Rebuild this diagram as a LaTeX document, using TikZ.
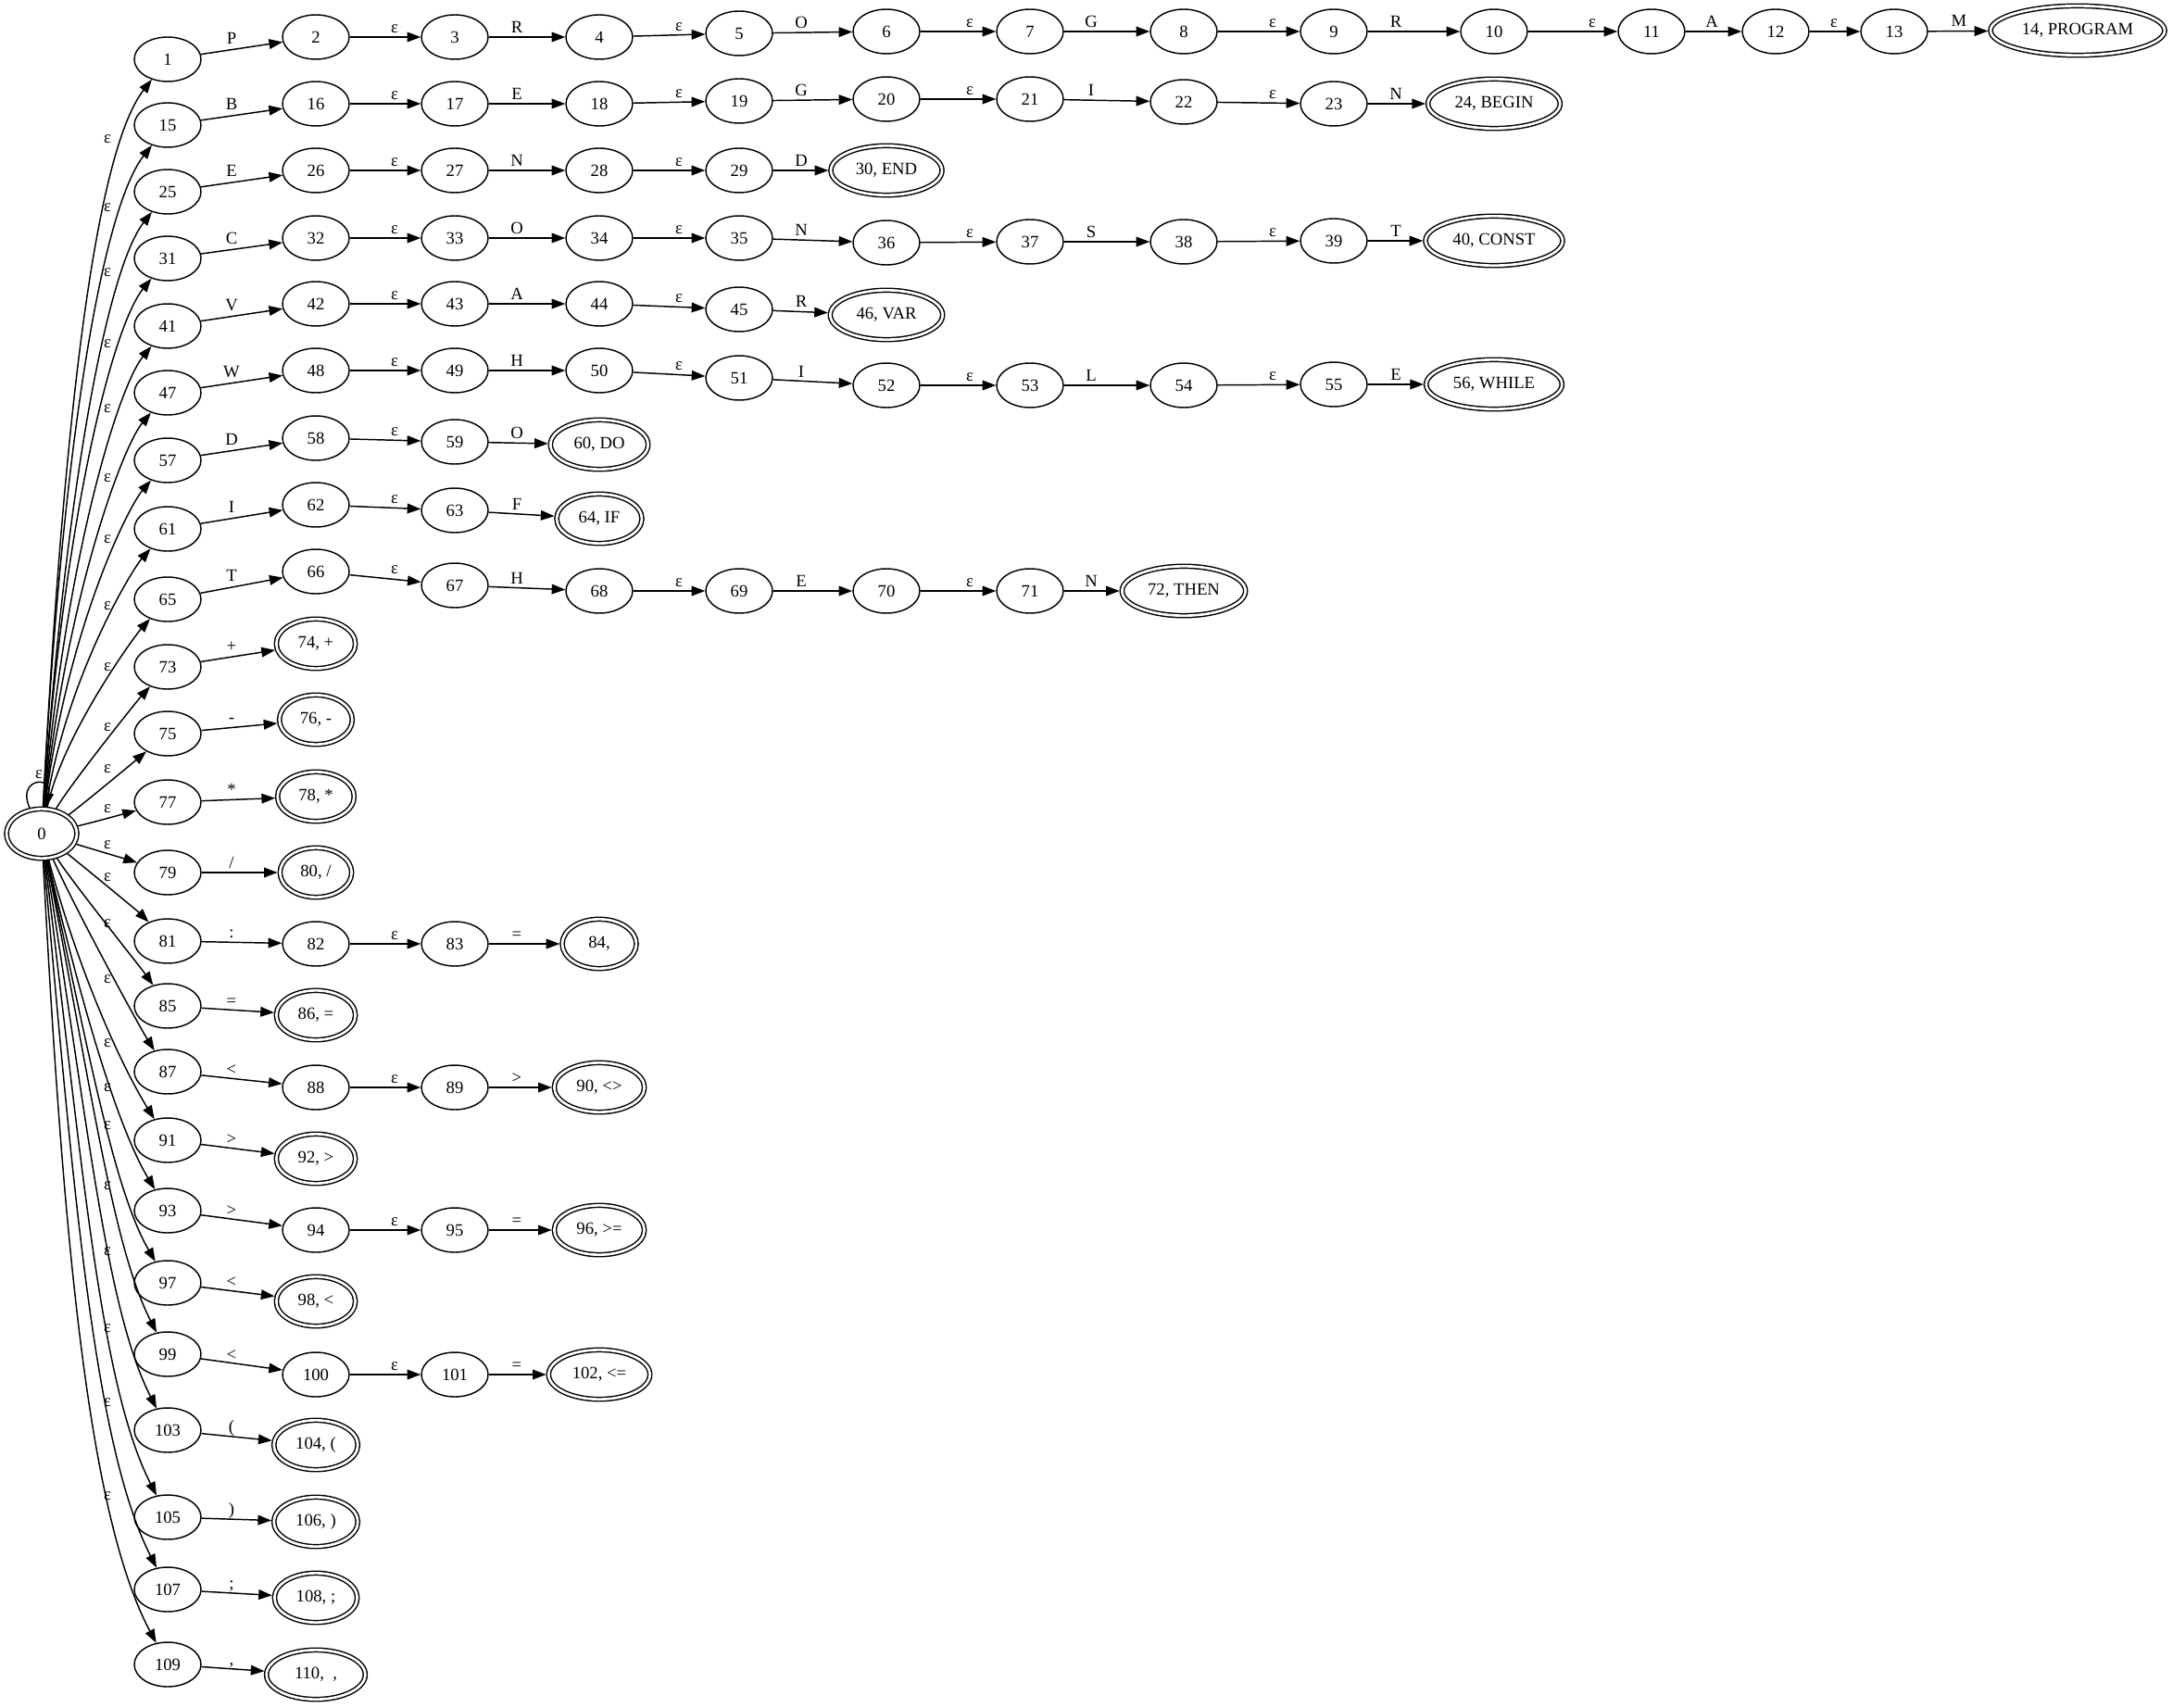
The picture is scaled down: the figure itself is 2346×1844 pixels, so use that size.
\documentclass[tikz,border=0pt]{standalone}
\usepackage{fontspec}
\setmainfont{Liberation Serif}
\usetikzlibrary{arrows.meta,shapes.geometric}

\begin{document}
\begin{tikzpicture}[x=0.75pt,y=0.75pt,
	st/.style={draw,ellipse,line width=1.1pt,minimum width=54pt,minimum height=36pt,inner sep=2pt,font=\fontsize{14}{16}\selectfont},
	acc/.style={st,double,double distance=2pt,outer sep=2pt,minimum height=40pt,inner xsep=1pt},
	arr/.style={line width=1.1pt,-{Triangle[length=11pt,width=8pt]}},
	lab/.style={font=\fontsize{14}{16}\selectfont,inner sep=2pt}]
\useasboundingbox (0,0) rectangle (2346,-1844);
\node (n0) at (45,-900) [acc,minimum width=57pt] {0};
\foreach \n/\x/\y in {1/181/64,2/341/40,3/491/40,4/647/40,5/798/36,6/957/34,7/1112/34,8/1278/34,9/1440/34,10/1613/34,11/1783/34,12/1917/34,13/2045/34,
	15/181/135,16/341/112,17/491/112,18/647/112,19/798/109,20/957/107,21/1112/107,22/1278/110,23/1440/112,
	25/181/207,26/341/184,27/491/184,28/647/184,29/798/184,
	31/181/279,32/341/257,33/491/257,34/647/257,35/798/257,36/957/262,37/1112/261,38/1278/261,39/1440/260,
	41/181/352,42/341/328,43/491/328,44/647/328,45/798/334,
	47/181/424,48/341/400,49/491/400,50/647/400,51/798/408,52/957/416,53/1112/416,54/1278/416,55/1440/415,
	57/181/497,58/341/473,59/491/477,
	61/181/571,62/341/545,63/491/551,
	65/181/647,66/341/617,67/491/632,68/647/638,69/798/638,70/957/638,71/1112/638,
	73/181/720,75/181/792,77/181/866,79/181/942,
	81/181/1016,82/341/1019,83/491/1019,85/181/1086,
	87/181/1157,88/341/1174,89/491/1174,91/181/1231,
	93/181/1307,94/341/1328,95/491/1328,97/181/1385,
	99/181/1462,100/341/1484,101/491/1484,
	103/181/1544,105/181/1638,107/181/1716,109/181/1797} {
	\node (n\n) at (\x,-\y) [st] {\n};
	}
\foreach \n/\x/\y/\w/\t in {14/2243/33/141/{14, PROGRAM},24/1613/112/107/{24, BEGIN},30/957/184/90/{30, END},40/1613/260/111/{40, CONST},
	46/957/340/91/{46, VAR},56/1613/415/110/{56, WHILE},60/647/480/79/{60, DO},64/647/560/69/{64, IF},72/1278/638/100/{72, THEN},
	74/341/695/64/{74, +},76/341/777/59/{76, -},78/341/860/62/{78, *},80/341/942/58/{80, /},84/647/1019/60/{84,},86/341/1096/64/{86, =},
	90/647/1174/73/{90, <>},92/341/1251/64/{92, >},96/647/1328/73/{96, >=},98/341/1405/64/{98, <},102/647/1484/82/{102, <=},
	104/341/1560/68/{104, (},106/341/1643/68/{106, )},108/341/1725/67/{108, ;},110/341/1808/80/{110,\ \ ,}} {
	\node (n\n) at (\x,-\y) [acc,minimum width=\w pt] {\t};
	}
\foreach \a/\b/\l/\c in {1/2/P/250,2/3/ε/426,3/4/R/558,4/5/ε/733,5/6/O/865,6/7/ε/1047,7/8/G/1178,8/9/ε/1374,9/10/R/1507,10/11/ε/1719,11/12/A/1848,12/13/ε/1980,13/14/M/2115,
	15/16/B/250,16/17/ε/426,17/18/E/558,18/19/ε/733,19/20/G/865,20/21/ε/1047,21/22/I/1178,22/23/ε/1374,23/24/N/1507,
	25/26/E/250,26/27/ε/426,27/28/N/558,28/29/ε/733,29/30/D/865,
	31/32/C/250,32/33/ε/426,33/34/O/558,34/35/ε/733,35/36/N/865,36/37/ε/1047,37/38/S/1178,38/39/ε/1374,39/40/T/1507,
	41/42/V/250,42/43/ε/426,43/44/A/558,44/45/ε/733,45/46/R/865,
	47/48/W/250,48/49/ε/426,49/50/H/558,50/51/ε/733,51/52/I/865,52/53/ε/1047,53/54/L/1178,54/55/ε/1374,55/56/E/1507,
	57/58/D/250,58/59/ε/426,59/60/O/558,61/62/I/250,62/63/ε/426,63/64/F/558,
	65/66/T/250,66/67/ε/426,67/68/H/558,68/69/ε/733,69/70/E/865,70/71/ε/1047,71/72/N/1178,
	73/74/+/250,75/76/-/250,77/78/*/250,79/80/{/}/250,81/82/:/250,82/83/ε/426,83/84/=/558,85/86/=/250,
	87/88/</250,88/89/ε/426,89/90/>/558,91/92/>/250,93/94/>/250,94/95/ε/426,95/96/=/558,97/98/</250,
	99/100/</250,100/101/ε/426,101/102/=/558,103/104/{(}/250,105/106/{)}/250,107/108/;/250,109/110/{,}/250} {
	\draw[arr] (n\a) -- (n\b) coordinate[midway] (m);
	\node (l\a) at (m -| \c,0) [lab,anchor=base,yshift=3.5pt] {\l};
	}
\foreach \t/\ly/\oa/\od/\ia/\id in {1/150/87/460/232/125,15/224/87/420/232/115,25/294/86/380/232/105,
	31/371/86/340/231/95,41/441/85/300/231/85,47/516/84/260/230/75,57/582/83/220/230/68,
	61/654/81/170/229/60,65/720/78/110/228/52,73/785/60/60/228/50,75/830/35/50/220/45,
	77/873/12/50/195/40,79/912/-17/50/162/40,81/947/-38/50/135/45,85/997/-58/60/125/50,
	87/1057/-66/90/122/60,91/1126/-75/165/122/86,93/1174/-77/205/121/100,97/1215/-78/245/120/115,
	99/1280/-79/285/117/130,103/1351/-81/325/117/145,105/1434/-83/370/117/160,
	107/1514/-85/410/117/170,109/1615/-87/450/118/180} {
	\node (e\t) at (116,-\ly) [lab] {ε};
	\draw[arr] (n0) .. controls +(\oa:\od) and +(\ia:\id) .. (n\t);
	}
\node (e0) at (42,-836) [lab] {ε};
\draw[arr] (n0) .. controls +(115:65) and +(80:65) .. (n0);
\end{tikzpicture}
\end{document}
